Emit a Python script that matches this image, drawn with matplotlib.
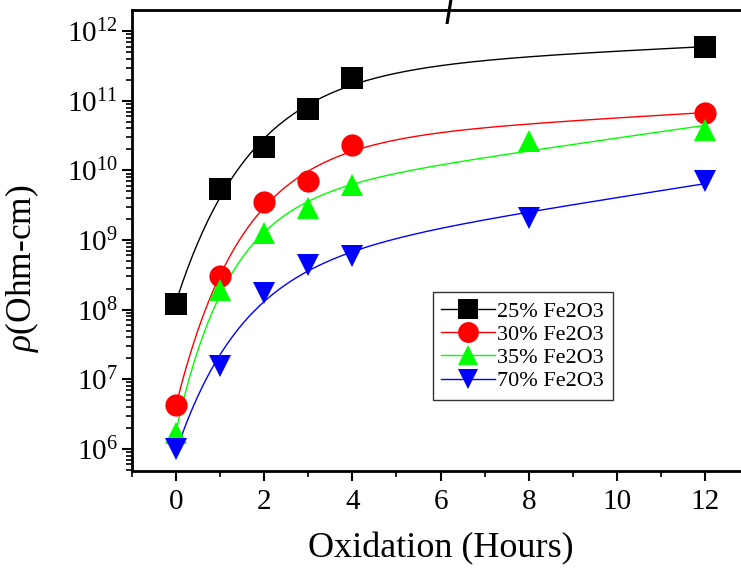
import numpy as np
import matplotlib
matplotlib.use('Agg')
import matplotlib.pyplot as plt
from matplotlib.ticker import LogLocator, FixedLocator, NullFormatter

plt.rcParams['font.family'] = ['Liberation Serif', 'DejaVu Serif']
plt.rcParams['mathtext.fontset'] = 'custom'
plt.rcParams['mathtext.rm'] = 'Liberation Serif'
plt.rcParams['mathtext.it'] = 'Liberation Serif:italic'

# data
hours_a = [0, 1, 2, 3, 4, 12]
hours_b = [0, 1, 2, 3, 4, 8, 12]
rho_25 = [1.2e8, 5.4e9, 2.2e10, 7.6e10, 2.1e11, 5.9e11]
rho_30 = [4.2e6, 3.0e8, 3.5e9, 7.0e9, 2.3e10, 6.7e10]
rho_35 = [1.7e6, 1.9e8, 1.25e9, 2.9e9, 6.1e9, 2.6e10, 3.8e10]
rho_70 = [1.0e6, 1.55e7, 1.75e8, 4.4e8, 5.9e8, 2.1e9, 7.1e9]
labels = ['25% Fe2O3', '30% Fe2O3', '35% Fe2O3', '70% Fe2O3']
colors = ['black', 'red', '#00ff00', 'blue']
markers = ['s', 'o', '^', 'v']
xticks = [0, 2, 4, 6, 8, 10, 12]


def fit_curve(x, y, xs):
    # log10(rho) = a + b*x - c*exp(-x/t), best t from a small grid
    x = np.asarray(x, float)
    ly = np.log10(y)
    best = None
    for t in np.linspace(0.3, 4, 75):
        M = np.column_stack([np.ones_like(x), x, -np.exp(-x / t)])
        coef, *_ = np.linalg.lstsq(M, ly, rcond=None)
        err = np.sum((M @ coef - ly) ** 2)
        if best is None or err < best[0]:
            best = (err, t, coef)
    _, t, c = best
    return 10 ** (c[0] + c[1] * xs - c[2] * np.exp(-xs / t))


fig = plt.figure(figsize=(7.41, 5.71), dpi=100)
ax = fig.add_axes([0.178, 0.175, 0.833, 0.807])

series = [(hours_a, rho_25), (hours_a, rho_30), (hours_b, rho_35), (hours_b, rho_70)]
xs = np.linspace(0, 12, 300)
for (x, y), lab, col, mk in zip(series, labels, colors, markers):
    ax.plot(xs, fit_curve(x, y, xs), color=col, lw=1.0, zorder=2)
    ax.plot(x, y, linestyle='none', marker=mk, color=col, markersize=16,
            markeredgewidth=0, zorder=3)
    ax.plot([], [], color=col, lw=1.0, marker=mk, markersize=15,
            markeredgewidth=0, label=lab)

ax.set_yscale('log')
ax.set_xlim(-1, 13)
ax.set_ylim(10 ** 5.68, 10 ** 12.3)
ax.xaxis.set_major_locator(FixedLocator(xticks))
ax.xaxis.set_minor_locator(FixedLocator([-1, 1, 3, 5, 7, 9, 11, 13]))
ax.yaxis.set_major_locator(LogLocator(base=10, numticks=20))
ax.yaxis.set_minor_locator(LogLocator(base=10, subs=np.arange(2, 10), numticks=20))
ax.yaxis.set_minor_formatter(NullFormatter())

ax.tick_params(axis='both', which='major', direction='out', length=7, width=1.5,
               labelsize=21, pad=6)
ax.tick_params(axis='both', which='minor', direction='out', length=4, width=1.2)
ax.tick_params(axis='y', which='major', pad=3)
for side in ['top', 'left', 'bottom', 'right']:
    ax.spines[side].set_linewidth(2)

ax.set_xlabel('Oxidation (Hours)', fontsize=26, labelpad=12)
ax.set_ylabel(r'$\it{\rho}$(Ohm-cm)', fontsize=25.5)
ax.yaxis.set_label_coords(-0.148, 0.44)

fig.text(0.607, 0.99, 'f', fontsize=28, style='italic', ha='center', va='center')

leg = ax.legend(loc='upper left', bbox_to_anchor=(0.487, 0.388), fontsize=16,
                frameon=True, fancybox=False, edgecolor='black', handlelength=2.4,
                handletextpad=0.1, labelspacing=0.12, borderpad=0.4,
                borderaxespad=0)
leg.get_frame().set_linewidth(1.0)

fig.savefig('out.png', dpi=100)
